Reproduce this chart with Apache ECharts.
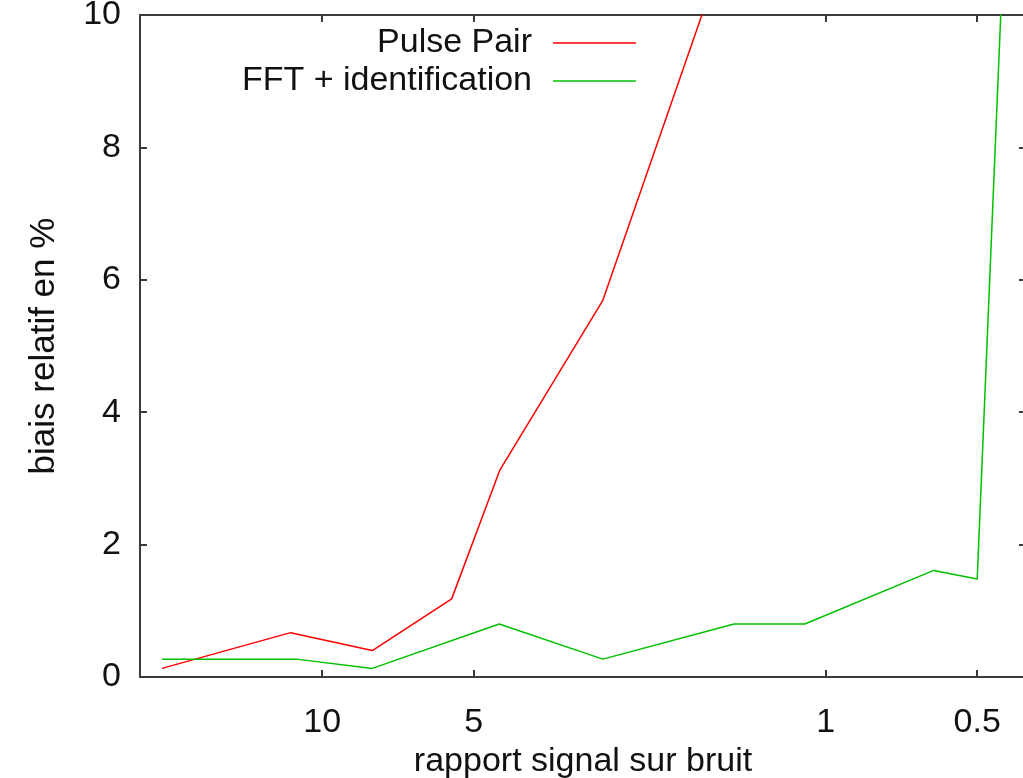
<!DOCTYPE html>
<html>
<head>
<meta charset="utf-8">
<script src="https://cdn.jsdelivr.net/npm/echarts@6/dist/echarts.min.js"></script>
<style>
  html, body { margin: 0; padding: 0; background: #ffffff; }
  #chart { width: 1023px; height: 778px; }
</style>
</head>
<body>
<div id="chart"></div>
<script>
// Signal-to-noise ratio (log scale) and relative bias (%) for each estimator
const snrPulsePair = [20.8, 11.55, 7.95, 5.53, 4.44, 2.77, 1.52];
const biasPulsePair = [0.13, 0.67, 0.40, 1.18, 3.12, 5.69, 11.4];

const snrFFT = [20.8, 11.25, 7.95, 4.45, 2.77, 1.52, 1.10, 0.61, 0.50, 0.44];
const biasFFT = [0.27, 0.27, 0.13, 0.80, 0.27, 0.80, 0.80, 1.61, 1.48, 11.6];

const xTickValues = [10, 5, 1, 0.5];
const seriesNames = ['Pulse Pair', 'FFT + identification'];

const FONT = 'Liberation Sans, Arial, sans-serif';
const AXIS_COLOR = '#3a3a3a';

function pairs(xs, ys) {
  return xs.map((x, i) => [x, ys[i]]);
}

const xAxisCommon = {
  type: 'log',
  logBase: 10,
  inverse: true,
  min: 0.4,
  max: 23,
  axisLine: { show: true, onZero: false, lineStyle: { color: AXIS_COLOR, width: 2 } },
  axisTick: { show: true, inside: true, length: 7, customValues: xTickValues,
              lineStyle: { color: AXIS_COLOR, width: 2 } },
  splitLine: { show: false },
  minorTick: { show: false }
};

const yAxisCommon = {
  type: 'value',
  min: 0,
  max: 10,
  interval: 2,
  axisLine: { show: true, onZero: false, lineStyle: { color: AXIS_COLOR, width: 2 } },
  axisTick: { show: true, inside: true, length: 7, lineStyle: { color: AXIS_COLOR, width: 2 } },
  splitLine: { show: false }
};

const chart = echarts.init(document.getElementById('chart'), null, { renderer: 'canvas' });

chart.setOption({
  animation: false,
  backgroundColor: '#ffffff',
  // plot frame runs slightly past the right edge of the canvas
  grid: { left: 140, top: 15, width: 886, height: 662,
          containLabel: false, outerBoundsMode: 'none' },
  legend: {
    orient: 'vertical',
    right: 382,
    top: 21,
    align: 'right',
    icon: 'rect',
    itemWidth: 83,
    itemHeight: 1.5,
    itemGap: 4,
    textStyle: { fontFamily: FONT, fontSize: 34, color: '#111', lineHeight: 34,
                 padding: [0, 16, 0, 0] },
    data: seriesNames
  },
  xAxis: [
    Object.assign({}, xAxisCommon, {
      position: 'bottom',
      name: 'rapport signal sur bruit',
      nameLocation: 'middle',
      nameGap: 58,
      nameTextStyle: { fontFamily: FONT, fontSize: 34, color: '#111' },
      axisLabel: { show: true, margin: 29, customValues: xTickValues,
                   fontFamily: FONT, fontSize: 34, color: '#111',
                   formatter: v => String(v) }
    }),
    Object.assign({}, xAxisCommon, {
      position: 'top',
      axisLabel: { show: false }
    })
  ],
  yAxis: [
    Object.assign({}, yAxisCommon, {
      position: 'left',
      name: 'biais relatif en %',
      nameLocation: 'middle',
      nameGap: 78,
      nameRotate: 90,
      nameTextStyle: { fontFamily: FONT, fontSize: 35, color: '#111' },
      axisLabel: { show: true, margin: 19, fontFamily: FONT, fontSize: 34, color: '#111' }
    }),
    Object.assign({}, yAxisCommon, {
      position: 'right',
      axisLabel: { show: false }
    })
  ],
  series: [
    {
      name: seriesNames[0],
      type: 'line',
      xAxisIndex: 0,
      yAxisIndex: 0,
      clip: true,
      symbol: 'none',
      color: '#ff0000',
      lineStyle: { color: '#ff0000', width: 1.5 },
      data: pairs(snrPulsePair, biasPulsePair)
    },
    {
      name: seriesNames[1],
      type: 'line',
      xAxisIndex: 0,
      yAxisIndex: 0,
      clip: true,
      symbol: 'none',
      color: '#00c000',
      lineStyle: { color: '#00c000', width: 1.5 },
      data: pairs(snrFFT, biasFFT)
    }
  ]
});
</script>
</body>
</html>
